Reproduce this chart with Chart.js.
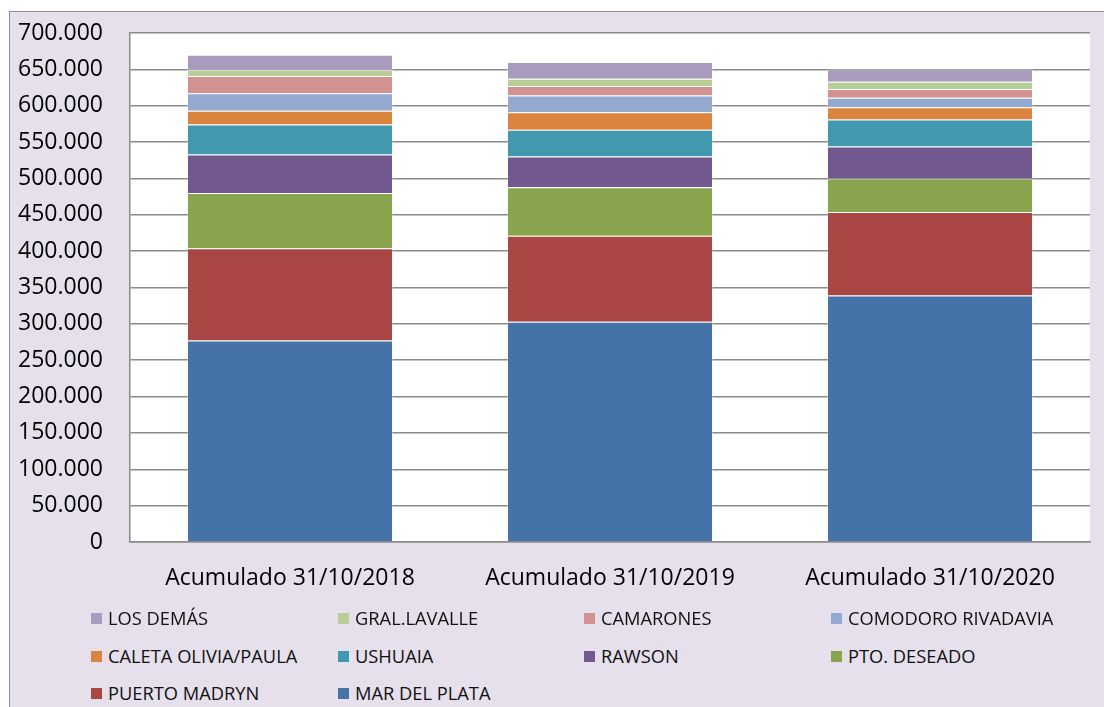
<!DOCTYPE html>
<html>
<head>
<meta charset="utf-8">
<script src="https://cdn.jsdelivr.net/npm/chart.js@4.4.1/dist/chart.umd.min.js"></script>
<style>
    body { margin: 0; background: #fff; overflow: hidden; }
    #frame {
        position: absolute; left: 9px; top: 11px; width: 1110px; height: 710px;
        background: #E5E0EC; border: 1px solid #8f8f8f;
    }
    #chartBox { position: absolute; left: 0; top: 0; width: 1094px; height: 600px; }
    #legend { position: absolute; left: 0; top: 0; }
    .item {
        position: absolute; font-family: "Open Sans", sans-serif; font-size: 18.3px;
        color: #111; white-space: nowrap; line-height: 20px;
    }
    .item span {
        display: inline-block; width: 11px; height: 11px; margin-right: 6px;
        vertical-align: 1px;
    }
</style>
</head>
<body>
<div id="frame">
    <div id="chartBox"><canvas id="barChartPuertos"></canvas></div>
    <div id="legend"></div>
</div>
<script>
var periodos = ['Acumulado 31/10/2018', 'Acumulado 31/10/2019', 'Acumulado 31/10/2020'];

// de abajo hacia arriba en la pila
var marDelPlata = [277000, 303000, 339000];
var puertoMadryn = [127000, 118000, 115000];
var ptoDeseado = [76000, 67000, 46000];
var rawson = [53000, 42000, 44000];
var ushuaia = [41000, 37000, 37000];
var caletaOlivia = [19000, 24000, 17000];
var comodoro = [24000, 23000, 13000];
var camarones = [24000, 13000, 12000];
var gralLavalle = [8000, 10000, 10000];
var losDemas = [21000, 23000, 17000];

var series = [
    {label: 'MAR DEL PLATA', data: marDelPlata, color: '#4573A7'},
    {label: 'PUERTO MADRYN', data: puertoMadryn, color: '#AA4744'},
    {label: 'PTO. DESEADO', data: ptoDeseado, color: '#89A44E'},
    {label: 'RAWSON', data: rawson, color: '#71588F'},
    {label: 'USHUAIA', data: ushuaia, color: '#4198AF'},
    {label: 'CALETA OLIVIA/PAULA', data: caletaOlivia, color: '#DB843D'},
    {label: 'COMODORO RIVADAVIA', data: comodoro, color: '#93A9CF'},
    {label: 'CAMARONES', data: camarones, color: '#D19392'},
    {label: 'GRAL.LAVALLE', data: gralLavalle, color: '#B9CD96'},
    {label: 'LOS DEMÁS', data: losDemas, color: '#A99BBD'}
];

function formatoMiles(v) {
    return String(v).replace(/\B(?=(\d{3})+(?!\d))/g, '.');
}

var fondoBlanco = {
    id: 'fondoBlanco',
    beforeDraw: function (chart) {
        var a = chart.chartArea;
        var ctx = chart.ctx;
        ctx.save();
        ctx.fillStyle = '#ffffff';
        ctx.fillRect(a.left, a.top, a.right - a.left, a.bottom - a.top);
        ctx.restore();
    }
};

var barData = {
    labels: periodos,
    datasets: series.map(function (s) {
        return {
            label: s.label,
            data: s.data,
            backgroundColor: s.color,
            borderColor: 'rgba(255,255,255,0.35)',
            borderWidth: 1,
            barPercentage: 0.644,
            categoryPercentage: 1
        };
    })
};

var barOptions = {
    responsive: true,
    maintainAspectRatio: false,
    animation: false,
    layout: {padding: {left: 0, right: 14, top: 21, bottom: 0}},
    plugins: {legend: {display: false}, tooltip: {enabled: false}},
    scales: {
        x: {
            stacked: true,
            grid: {display: false, drawTicks: false},
            border: {display: true, color: '#8a8a8a', width: 1.5},
            ticks: {color: '#000', padding: 23, font: {family: 'Open Sans', size: 23}, maxRotation: 0},
            afterFit: function (scale) { scale.height = 70; }
        },
        y: {
            stacked: true,
            min: 0,
            max: 700000,
            grid: {color: '#8a8a8a', lineWidth: 1.5, drawTicks: false},
            border: {display: true, color: '#8a8a8a', width: 1.5},
            ticks: {
                stepSize: 50000, color: '#000', padding: 27,
                font: {family: 'Open Sans', size: 23},
                callback: function (v) { return formatoMiles(v); }
            },
            afterFit: function (scale) {
                scale.width = 120;
                scale.paddingTop = 0;
                scale.paddingBottom = 0;
            }
        }
    }
};

var ctx = document.getElementById('barChartPuertos').getContext('2d');
var chart = new Chart(ctx, {type: 'bar', data: barData, options: barOptions, plugins: [fondoBlanco]});

// leyenda en 4 columnas, en el orden inverso a la pila
var cols = [81, 328, 574, 821];
var rows = [596, 634, 671];
var legend = document.getElementById('legend');
chart.data.datasets.slice().reverse().forEach(function (ds, i) {
    var div = document.createElement('div');
    div.className = 'item';
    div.style.left = cols[i % 4] + 'px';
    div.style.top = rows[Math.floor(i / 4)] + 'px';
    div.innerHTML = '<span style="background:' + ds.backgroundColor + '"></span>' + ds.label;
    legend.appendChild(div);
});
</script>
</body>
</html>
